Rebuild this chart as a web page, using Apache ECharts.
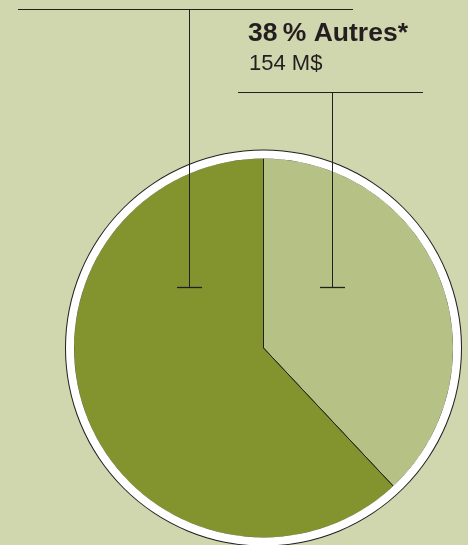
<!DOCTYPE html>
<html><head><meta charset="utf-8">
<script src="https://cdn.jsdelivr.net/npm/echarts@6/dist/echarts.min.js"></script>
<style>html,body{margin:0;padding:0;background:#d0d6ae;}#c{width:468px;height:545px;}</style>
</head><body><div id="c"></div>
<script>
var categories = ['Autres*', 'Autre part'];
var percents = [38, 62];
var amounts = ['154 M$', ''];
var colors = ['#b5c185', '#83942e'];

var chart = echarts.init(document.getElementById('c'), null, {renderer: 'canvas'});
var cx = 263.5, cy = 348;
var ink = '#231f20';
var font = '"Liberation Sans", Arial, Helvetica, sans-serif';

chart.setOption({
  backgroundColor: '#d0d6ae',
  animation: false,
  series: [
    {
      type: 'pie', silent: true, center: [cx, cy], radius: 198.5,
      label: {show: false}, labelLine: {show: false},
      itemStyle: {color: ink}, data: [{value: 1, name: 'edge'}]
    },
    {
      type: 'pie', silent: true, center: [cx, cy], radius: 190,
      startAngle: 90, clockwise: true,
      label: {show: false}, labelLine: {show: false},
      itemStyle: {borderColor: ink, borderWidth: 1},
      data: categories.map(function (c, i) {
        return {name: c, value: percents[i], itemStyle: {color: colors[i]}};
      })
    },
    {
      type: 'pie', silent: true, center: [cx, cy], radius: [189.5, 197.5],
      label: {show: false}, labelLine: {show: false},
      itemStyle: {color: '#ffffff'}, data: [{value: 1, name: 'ring'}]
    }
  ],
  graphic: [
    {type: 'line', z: 100, shape: {x1: 18, y1: 9.5, x2: 353, y2: 9.5}, style: {stroke: ink, lineWidth: 1}},
    {type: 'line', z: 100, shape: {x1: 189.5, y1: 9.5, x2: 189.5, y2: 287.5}, style: {stroke: ink, lineWidth: 1}},
    {type: 'line', z: 100, shape: {x1: 177, y1: 287.5, x2: 202, y2: 287.5}, style: {stroke: ink, lineWidth: 1.3}},
    {type: 'line', z: 100, shape: {x1: 238, y1: 92.5, x2: 423, y2: 92.5}, style: {stroke: ink, lineWidth: 1}},
    {type: 'line', z: 100, shape: {x1: 332.5, y1: 92.5, x2: 332.5, y2: 287.5}, style: {stroke: ink, lineWidth: 1}},
    {type: 'line', z: 100, shape: {x1: 320, y1: 287.5, x2: 345, y2: 287.5}, style: {stroke: ink, lineWidth: 1.3}},
    {type: 'text', z: 100, x: 248, y: 20, style: {text: percents[0] + '\u2009% ' + categories[0], fill: ink, font: 'bold 26.5px ' + font}},
    {type: 'text', z: 100, x: 249, y: 53, style: {text: amounts[0], fill: ink, font: '22px ' + font}}
  ]
});
</script></body></html>
